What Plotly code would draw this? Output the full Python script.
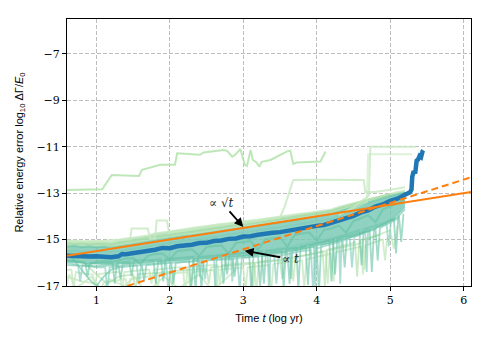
import plotly.graph_objects as go

# ---------------- data ----------------
# common time grid (log yr) for the ensemble envelope and smooth runs
T = [0.6, 0.7, 0.8, 0.9, 1.0, 1.1, 1.2, 1.3, 1.4, 1.5,
     1.6, 1.7, 1.8, 1.9, 2.0, 2.1, 2.2, 2.3, 2.4, 2.5,
     2.6, 2.7, 2.8, 2.9, 3.0, 3.1, 3.2, 3.3, 3.4, 3.5,
     3.6, 3.7, 3.8, 3.9, 4.0, 4.1, 4.2, 4.3, 4.4, 4.5,
     4.6, 4.7, 4.8, 4.9, 5.0, 5.1, 5.2, 5.3]

U1 = [-15.05, -15.04, -15.08, -15.06, -15.05, -15.08, -15.10, -15.02, -14.95, -14.92,
      -14.88, -14.82, -14.74, -14.70, -14.66, -14.60, -14.55, -14.50, -14.45, -14.42,
      -14.38, -14.33, -14.30, -14.25, -14.22, -14.18, -14.15, -14.10, -14.06, -14.02,
      -13.98, -13.92, -13.88, -13.84, -13.80, -13.75, -13.70, -13.60, -13.52, -13.42,
      -13.35, -13.25, -13.18, -13.10, -13.02, -12.95, -12.90]
U2 = [-15.30, -15.28, -15.32, -15.30, -15.33, -15.31, -15.35, -15.30, -15.22, -15.20,
      -15.14, -15.08, -15.02, -14.98, -14.95, -14.90, -14.85, -14.82, -14.77, -14.72,
      -14.68, -14.63, -14.58, -14.53, -14.48, -14.45, -14.40, -14.36, -14.32, -14.27,
      -14.23, -14.17, -14.12, -14.07, -14.02, -13.96, -13.90, -13.80, -13.70, -13.60,
      -13.50, -13.40, -13.30, -13.22, -13.12, -13.05, -12.98]
U3 = [-15.50, -15.48, -15.52, -15.50, -15.53, -15.52, -15.55, -15.50, -15.42, -15.40,
      -15.35, -15.28, -15.22, -15.18, -15.15, -15.10, -15.05, -15.02, -14.97, -14.92,
      -14.88, -14.83, -14.78, -14.73, -14.68, -14.65, -14.60, -14.56, -14.52, -14.47,
      -14.43, -14.37, -14.32, -14.27, -14.22, -14.16, -14.10, -13.98, -13.88, -13.77,
      -13.66, -13.55, -13.45, -13.35, -13.25, -13.15]
U4 = [-15.15, -15.20, -15.16, -15.22, -15.18, -15.20, -15.22, -15.15, -15.08, -15.05,
      -15.00, -14.95, -14.88, -14.82, -14.80, -14.75, -14.70, -14.66, -14.62, -14.57,
      -14.52, -14.48, -14.43, -14.38, -14.33, -14.30, -14.25, -14.22, -14.18, -14.12,
      -14.08, -14.02, -13.98, -13.92, -13.88, -13.82, -13.76, -13.66, -13.56, -13.46,
      -13.38, -13.28, -13.20, -13.12, -13.05]
M1 = [-15.90, -15.92, -15.95, -16.10, -15.95, -15.92, -15.95, -15.90, -15.82, -15.80,
      -16.05, -15.70, -15.62, -15.60, -15.85, -15.50, -15.45, -15.42, -15.70, -15.32,
      -15.28, -15.25, -15.60, -15.14, -15.10, -15.06, -15.45, -14.98, -14.94, -14.90,
      -15.30, -14.80, -14.74, -14.70, -15.05, -14.58, -14.52, -14.40, -14.70, -14.20,
      -14.08, -13.95, -14.25, -13.70, -13.58, -13.45, -13.30]
# lower edge of the dense part of the ensemble
BOT = [-16.00, -16.02, -16.05, -16.08, -16.10, -16.10, -16.10, -16.08, -16.06, -16.05,
       -16.03, -16.01, -15.99, -15.97, -15.95, -15.93, -15.91, -15.89, -15.87, -15.85,
       -15.83, -15.81, -15.79, -15.77, -15.75, -15.72, -15.69, -15.66, -15.63, -15.60,
       -15.55, -15.49, -15.43, -15.37, -15.30, -15.22, -15.14, -15.06, -14.98, -14.90,
       -14.78, -14.65, -14.52, -14.38, -14.20, -13.95, -13.60]

# spiky runs (own time stamps)
S1_T = [0.6, 0.75, 0.78, 0.81, 1.0, 1.12, 1.15, 1.18, 1.4, 1.55, 1.58, 1.61, 1.85, 1.95, 1.98,
        2.01, 2.3, 2.45, 2.48, 2.51, 2.8, 2.92, 2.95, 2.98, 3.3, 3.42, 3.45, 3.48, 3.8, 3.92,
        3.95, 3.98, 4.3, 4.45, 4.48, 4.51, 4.8, 4.95, 4.98, 5.01, 5.2]
S1_Y = [-16.0, -16.1, -16.8, -16.1, -16.2, -16.2, -17.2, -16.2, -16.1, -16.1, -16.9, -16.1,
        -16.0, -16.0, -17.3, -16.0, -15.95, -15.9, -16.7, -15.9, -15.85, -15.8, -17.2, -15.8,
        -15.7, -15.7, -16.9, -15.7, -15.5, -15.45, -17.2, -15.4, -15.1, -14.95, -16.2, -14.9,
        -14.5, -14.3, -15.3, -14.2, -13.6]
S2_T = [0.6, 0.66, 0.69, 0.72, 0.9, 0.95, 0.98, 1.01, 1.25, 1.32, 1.35, 1.38, 1.65, 1.72,
        1.75, 1.78, 2.1, 2.18, 2.21, 2.24, 2.55, 2.65, 2.68, 2.71, 3.05, 3.15, 3.18, 3.21,
        3.55, 3.65, 3.68, 3.71, 4.05, 4.12, 4.15, 4.18, 4.55, 4.62, 4.65, 4.68, 5.0, 5.05, 5.1]
S2_Y = [-16.3, -16.3, -17.1, -16.4, -16.5, -16.5, -16.95, -16.5, -16.4, -16.4, -17.3, -16.4,
        -16.3, -16.3, -16.9, -16.3, -16.2, -16.2, -17.4, -16.2, -16.1, -16.1, -16.95, -16.1,
        -16.0, -16.0, -17.3, -15.95, -15.85, -15.8, -16.8, -15.75, -15.55, -15.5, -16.9, -15.45,
        -15.2, -15.1, -16.3, -15.0, -14.6, -15.4, -14.4]
S3_T = [0.6, 0.85, 0.88, 0.91, 1.05, 1.22, 1.25, 1.28, 1.45, 1.48, 1.51, 1.7, 1.88, 1.91,
        1.94, 2.15, 2.32, 2.35, 2.38, 2.6, 2.75, 2.78, 2.81, 3.1, 3.25, 3.28, 3.31, 3.55, 3.72,
        3.75, 3.78, 4.0, 4.22, 4.25, 4.28, 4.55, 4.72, 4.75, 4.78, 5.0, 5.12, 5.15, 5.18]
S3_Y = [-15.9, -16.0, -16.6, -16.0, -16.0, -16.0, -16.9, -16.0, -15.95, -16.6, -15.9, -15.9,
        -15.85, -16.8, -15.85, -15.8, -15.75, -17.2, -15.75, -15.7, -15.65, -16.5, -15.65,
        -15.55, -15.5, -16.9, -15.5, -15.4, -15.35, -17.1, -15.3, -15.15, -15.0, -16.5, -14.95,
        -14.75, -14.6, -16.4, -14.55, -14.2, -14.0, -15.1, -13.9]
S4_T = [0.6, 0.8, 1.0, 1.05, 1.1, 1.4, 1.43, 1.46, 1.8, 1.83, 1.86, 2.25, 2.28, 2.31, 2.6,
        2.63, 2.66, 3.0, 3.03, 3.06, 3.35, 3.38, 3.41, 3.8, 3.83, 3.86, 4.2, 4.23, 4.26, 4.6,
        4.63, 4.66, 4.9, 4.93, 4.96]
S4_Y = [-16.6, -16.8, -16.9, -17.2, -16.85, -16.7, -17.3, -16.7, -16.55, -17.3, -16.5, -16.4,
        -17.2, -16.4, -16.3, -17.4, -16.3, -16.2, -17.2, -16.2, -16.1, -17.3, -16.05, -15.9,
        -17.1, -15.85, -15.6, -16.8, -15.55, -15.3, -16.5, -15.25, -15.0, -15.9, -14.9]
S5_T = [0.6, 0.7, 0.8, 0.9, 1.0, 1.1, 1.2, 1.3, 1.62, 1.65, 1.68, 2.02, 2.05, 2.08, 2.4,
        2.43, 2.46, 2.85, 2.88, 2.91, 3.2, 3.23, 3.26, 3.6, 3.63, 3.66, 4.0, 4.03, 4.06, 4.35,
        4.38, 4.41, 4.8, 4.83, 4.86, 5.1]
S5_Y = [-15.6, -15.9, -16.3, -16.7, -17.0, -16.6, -16.3, -16.2, -16.1, -16.8, -16.1, -16.0,
        -16.9, -16.0, -15.9, -17.1, -15.9, -15.8, -16.6, -15.8, -15.7, -17.0, -15.7, -15.55,
        -16.9, -15.5, -15.3, -17.3, -15.25, -15.0, -16.2, -14.95, -14.55, -15.9, -14.5, -14.1]
S6_T = [0.6, 0.8, 1.0, 1.15, 1.3, 1.5, 1.53, 1.56, 1.9, 2.0, 2.03, 2.06, 2.5, 2.53, 2.56,
        2.9, 3.1, 3.13, 3.16, 3.5, 3.53, 3.56, 3.9, 4.08, 4.11, 4.14, 4.45, 4.52, 4.55, 4.58, 4.85]
S6_Y = [-15.3, -15.9, -16.5, -16.9, -16.6, -16.5, -17.2, -16.5, -16.4, -16.4, -17.0, -16.35,
        -16.25, -16.9, -16.2, -16.1, -16.05, -17.4, -16.0, -15.9, -16.7, -15.85, -15.65, -15.5,
        -17.0, -15.45, -15.2, -15.1, -16.6, -15.05, -14.8]
S7_T = [0.6, 1.0, 1.3, 1.33, 1.36, 1.7, 1.78, 1.81, 1.84, 2.2, 2.26, 2.29, 2.32, 2.6, 2.7,
        2.73, 2.76, 3.0, 3.08, 3.11, 3.14, 3.4, 3.52, 3.55, 3.58, 3.85, 3.88, 3.91, 4.1, 4.17,
        4.2, 4.23, 4.5, 4.58, 4.61, 4.64, 4.9, 5.05, 5.08, 5.11, 5.2]
S7_Y = [-16.1, -16.15, -16.1, -16.7, -16.05, -16.0, -15.95, -16.9, -15.95, -15.9, -15.85,
        -17.2, -15.85, -15.8, -15.75, -16.9, -15.75, -15.7, -15.65, -17.3, -15.65, -15.55,
        -15.5, -17.1, -15.45, -15.3, -16.95, -15.25, -15.1, -15.0, -16.8, -14.95, -14.7, -14.6,
        -16.1, -14.55, -14.3, -14.1, -15.6, -14.0, -13.7]
S8_T = [2.0, 2.38, 2.41, 2.44, 2.6, 2.62, 2.64, 2.83, 2.85, 2.87, 3.2, 3.33, 3.35, 3.37,
        3.63, 3.65, 3.67, 3.96, 3.98, 4.0, 4.3, 4.32, 4.34, 4.66, 4.68, 4.7, 5.0]
S8_Y = [-15.8, -15.72, -16.6, -15.7, -15.65, -17.2, -15.65, -15.6, -16.8, -15.58, -15.5,
        -15.45, -17.3, -15.43, -15.3, -16.7, -15.28, -15.1, -17.1, -15.08, -14.85, -16.9,
        -14.83, -14.55, -16.4, -14.52, -14.2]
S9_T = [0.6, 0.63, 0.72, 0.93, 1.08, 1.18, 1.38, 1.52, 1.68, 1.92, 2.12, 2.4, 2.58, 2.9]
S9_Y = [-16.9, -16.5, -17.1, -16.6, -17.2, -16.7, -17.0, -16.6, -17.3, -16.6, -17.1, -16.5,
        -17.2, -16.3]

# outlier runs
H_T = [0.60, 1.08, 1.21, 1.58, 1.62, 1.69, 1.87, 2.07, 2.10, 2.41, 2.46, 2.73, 2.78, 2.85,
       2.89, 2.96, 3.02, 3.05, 3.10, 3.13, 3.18, 3.22, 3.25, 3.37, 3.46, 3.59, 3.64, 3.68,
       3.73, 3.91, 4.05, 4.12]
H_Y = [-12.86, -12.83, -12.22, -12.26, -12.00, -11.93, -11.78, -11.78, -11.28, -11.35,
       -11.25, -11.14, -11.18, -11.43, -11.35, -11.10, -11.78, -11.83, -11.14, -11.57,
       -11.68, -11.86, -11.65, -11.57, -11.43, -11.21, -11.17, -11.74, -11.68, -11.64,
       -11.64, -11.21]
C_T = [0.6, 0.8, 1.0, 1.2, 1.46, 1.48, 1.70, 1.73, 1.80, 1.82, 1.96, 1.99, 2.2, 2.4, 2.6, 2.8, 3.0]
C_Y = [-15.10, -15.08, -15.10, -15.02, -15.00, -14.52, -14.52, -14.95, -14.95, -14.18,
       -14.18, -14.70, -14.62, -14.50, -14.42, -14.35, -14.25]
A_T = [3.0, 3.2, 3.4, 3.5, 3.56, 3.62, 3.68, 4.0, 4.3, 4.64, 4.66, 4.8, 5.0, 5.2]
A_Y = [-14.30, -14.20, -14.10, -14.05, -13.60, -13.00, -12.43, -12.42, -12.43, -12.43,
       -12.95, -12.95, -12.85, -12.75]
B_T = [4.3, 4.5, 4.71, 4.73, 5.35]
B_Y = [-13.95, -13.60, -13.10, -11.00, -11.00]
B2_T = [4.4, 4.6, 4.68, 4.70, 5.30]
B2_Y = [-13.80, -13.50, -13.40, -11.32, -11.32]

# ensemble mean (thick blue)
BLUE_T = [0.6, 0.7, 0.8, 0.9, 1.0, 1.1, 1.2, 1.3, 1.35, 1.4, 1.5, 1.6, 1.7, 1.8, 1.9,
          2.0, 2.1, 2.2, 2.3, 2.4, 2.5, 2.6, 2.7, 2.8, 2.9, 3.0, 3.1, 3.2, 3.3, 3.4,
          3.5, 3.6, 3.7, 3.8, 3.9, 4.0, 4.1, 4.2, 4.3, 4.4, 4.5, 4.6, 4.7, 4.8, 4.9,
          5.0, 5.1, 5.2, 5.27, 5.29, 5.30, 5.32, 5.34, 5.36, 5.38, 5.40, 5.42, 5.44, 5.45]
BLUE_Y = [-15.70, -15.72, -15.70, -15.73, -15.72, -15.75, -15.76, -15.72, -15.62, -15.63,
          -15.58, -15.56, -15.47, -15.44, -15.36, -15.37, -15.29, -15.26, -15.22, -15.15,
          -15.14, -15.06, -15.04, -14.97, -14.95, -14.87, -14.86, -14.79, -14.77, -14.71,
          -14.68, -14.62, -14.58, -14.51, -14.48, -14.41, -14.37, -14.28, -14.20, -14.06,
          -13.98, -13.83, -13.74, -13.58, -13.49, -13.33, -13.24, -13.07, -12.96, -12.85,
          -12.30, -12.05, -12.15, -11.60, -11.55, -11.40, -11.45, -11.20, -11.15]

# reference slopes
SQRT_X = [0.6, 6.1]
SQRT_Y = [-15.70, -12.95]
LIN_X = [1.42, 6.1]
LIN_Y = [-17.00, -12.32]

X_TICKS = [1, 2, 3, 4, 5, 6]
Y_TICKS = [-7, -9, -11, -13, -15, -17]

# ---------------- figure ----------------
TEAL = "rgba(102,194,164,0.60)"
MINT = "rgba(127,205,187,0.65)"
LGREEN = "rgba(161,217,155,0.55)"
PALE = "rgba(199,233,192,0.80)"

fig = go.Figure()


def line(xs, ys, col, w=2.0):
    fig.add_trace(go.Scatter(x=xs, y=ys, mode="lines", line=dict(color=col, width=w),
                             hoverinfo="skip"))


# shaded envelopes (where runs overlap densely)
fig.add_trace(go.Scatter(x=T[:len(U1)], y=U1, mode="lines", line=dict(width=0),
                         hoverinfo="skip"))
fig.add_trace(go.Scatter(x=T[:len(U2)], y=U2, mode="lines", line=dict(width=0),
                         fill="tonexty", fillcolor="rgba(172,222,182,0.85)", hoverinfo="skip"))
fig.add_trace(go.Scatter(x=T[:len(BOT)], y=BOT, mode="lines", line=dict(width=0),
                         fill="tonexty", fillcolor="rgba(118,200,180,0.82)", hoverinfo="skip"))

for xs, ys, col in [(S9_T, S9_Y, PALE), (S4_T, S4_Y, PALE), (S2_T, S2_Y, PALE),
                    (S6_T, S6_Y, LGREEN), (S5_T, S5_Y, TEAL), (S1_T, S1_Y, MINT),
                    (S7_T, S7_Y, TEAL), (S8_T, S8_Y, MINT), (S3_T, S3_Y, TEAL)]:
    line(xs, ys, col, 1.8)

for ys, col in [(U1, PALE), (U4, LGREEN), (U2, TEAL), (U3, MINT), (M1, TEAL)]:
    line(T[:len(ys)], ys, col, 2.0)

line(H_T, H_Y, "rgba(183,228,176,0.9)", 2.0)
line(C_T, C_Y, PALE, 2.0)
line(A_T, A_Y, PALE, 2.0)
line(B_T, B_Y, PALE, 2.0)
line(B2_T, B2_Y, "rgba(199,233,192,0.6)", 2.0)

line(BLUE_T, BLUE_Y, "#1f77b4", 4.5)
line(SQRT_X, SQRT_Y, "#ff7f0e", 2.0)
fig.add_trace(go.Scatter(x=LIN_X, y=LIN_Y, mode="lines",
                         line=dict(color="#ff7f0e", width=2, dash="7px,4px"), hoverinfo="skip"))

serif = "DejaVu Serif"
sans = "Liberation Sans"

# annotations (text sits at the arrow tail)
fig.add_annotation(x=3.0, y=-14.46, ax=2.71, ay=-13.42, axref="x", ayref="y",
                   text="∝ √<i>t</i>", showarrow=True, arrowhead=2, arrowsize=1,
                   arrowwidth=1.8, arrowcolor="black", standoff=0,
                   font=dict(family=serif, size=12, color="#222"))
fig.add_annotation(x=3.018, y=-15.48, ax=3.64, ay=-15.84, axref="x", ayref="y",
                   text="∝ <i>t</i>", showarrow=True, arrowhead=2, arrowsize=1,
                   arrowwidth=1.8, arrowcolor="black", standoff=0,
                   font=dict(family=serif, size=12, color="#222"))

axis_common = dict(
    showline=True, linecolor="black", linewidth=1.2, mirror=True,
    ticks="outside", ticklen=4, tickwidth=1, tickcolor="black",
    showgrid=True, gridcolor="#bdbdbd", gridwidth=1, griddash="4px,2px",
    zeroline=False, automargin=False,
    tickfont=dict(family=serif, size=11, color="black"),
)

fig.update_xaxes(range=[0.6, 6.1], tickvals=X_TICKS, ticktext=[str(v) for v in X_TICKS],
                 title=dict(text="Time <i>t</i> (log yr)", standoff=8,
                            font=dict(family=sans, size=11, color="black")),
                 **axis_common)
fig.update_yaxes(range=[-17, -5.5], tickvals=Y_TICKS,
                 ticktext=["−" + str(-v) for v in Y_TICKS],
                 title=dict(text="Relative energy error log<sub>10</sub> ΔΓ/<i>E</i><sub>0</sub>",
                            standoff=10, font=dict(family=sans, size=11, color="black")),
                 **axis_common)

fig.update_layout(width=491, height=343, margin=dict(l=67, r=20, t=19, b=57),
                  paper_bgcolor="white", plot_bgcolor="white", showlegend=False)

fig.write_html("out.html", config={"displayModeBar": False},
               post_script="document.body.style.margin='0px';")
